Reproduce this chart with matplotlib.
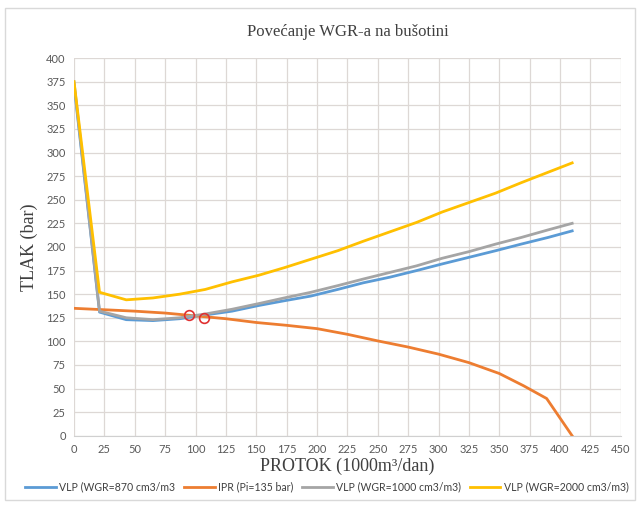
import numpy as np
import matplotlib
matplotlib.use("Agg")
import matplotlib.pyplot as plt
from matplotlib.patches import Rectangle

# protok (1000 m3/dan) for the VLP curves
q_vlp = [0, 21, 43, 65, 87, 108, 130, 152, 173, 195, 217, 238, 260, 282, 303, 325, 347, 368, 390, 410]
vlp_870 = [372, 131, 123, 122, 124, 128, 132, 138, 143, 148, 155, 162, 168, 175, 182, 189, 196, 203, 210, 217]
vlp_1000 = [375, 132, 125, 123, 125, 129, 134, 140, 146, 152, 159, 166, 173, 180, 188, 195, 203, 210, 218, 225]
vlp_2000 = [375, 152, 144, 146, 150, 155, 163, 170, 178, 187, 196, 206, 216, 226, 237, 247, 257, 268, 279, 289]

# IPR curve
q_ipr = [0, 25, 50, 75, 100, 125, 150, 175, 200, 225, 250, 275, 300, 325, 350, 370, 389, 410]
p_ipr = [135, 133.5, 132, 130, 127, 124, 120, 117, 113.5, 107.5, 100.5, 94, 86.5, 77.5, 66, 53, 39.5, 0]

# radne tocke (presjek IPR i VLP)
op_q = [95, 107]
op_p = [128, 125]

labels = ["VLP (WGR=870 cm3/m3", "IPR (Pi=135 bar)", "VLP (WGR=1000 cm3/m3)", "VLP (WGR=2000 cm3/m3)"]
colors = ["#5B9BD5", "#ED7D31", "#A5A5A5", "#FFC000"]

fig = plt.figure(figsize=(6.38, 5.05), dpi=100)
fig.patches.append(Rectangle((0.008, 0.01), 0.988, 0.975, transform=fig.transFigure,
                             fill=False, edgecolor="#D9D9D9", linewidth=1))
ax = fig.add_axes([0.116, 0.137, 0.857, 0.748])

ax.plot(q_vlp, vlp_870, color=colors[0], lw=2, label=labels[0])
ax.plot(q_ipr, p_ipr, color=colors[1], lw=2, label=labels[1])
ax.plot(q_vlp, vlp_1000, color=colors[2], lw=2, label=labels[2])
ax.plot(q_vlp, vlp_2000, color=colors[3], lw=2, label=labels[3])
ax.plot(op_q, op_p, linestyle="none", marker="o", markersize=7, markerfacecolor="none",
        markeredgecolor="#E03030", markeredgewidth=1.2)

ax.set_xlim(0, 450)
ax.set_ylim(0, 400)
ax.set_xticks(np.arange(0, 451, 25))
ax.set_yticks(np.arange(0, 401, 25))
ax.grid(True, color="#DDD8D5", lw=0.9)
ax.set_axisbelow(True)
for s in ["top", "right", "left"]:
    ax.spines[s].set_visible(False)
ax.spines["bottom"].set_color("#D0D0D0")
ax.tick_params(length=0, labelsize=8, labelcolor="#595959", pad=6)
for t in ax.get_xticklabels() + ax.get_yticklabels():
    t.set_family("Lato")

ax.set_title("Povećanje WGR-a na bušotini", family="Liberation Serif", fontsize=12,
             color="#404040", pad=16)
ax.set_xlabel("PROTOK (1000m³/dan)", family="Liberation Serif", fontsize=13,
              color="#404040", labelpad=2)
ax.set_ylabel("TLAK (bar)", family="Liberation Serif", fontsize=13, color="#404040", labelpad=6)

leg = ax.legend(loc="upper center", bbox_to_anchor=(0.4625, -0.095), ncol=4, frameon=False,
                prop={"family": "Lato", "size": 7.6}, handlelength=2.9, columnspacing=0.85,
                handletextpad=0.3)
for t in leg.get_texts():
    t.set_color("#404040")

fig.savefig("out.png", dpi=100)
